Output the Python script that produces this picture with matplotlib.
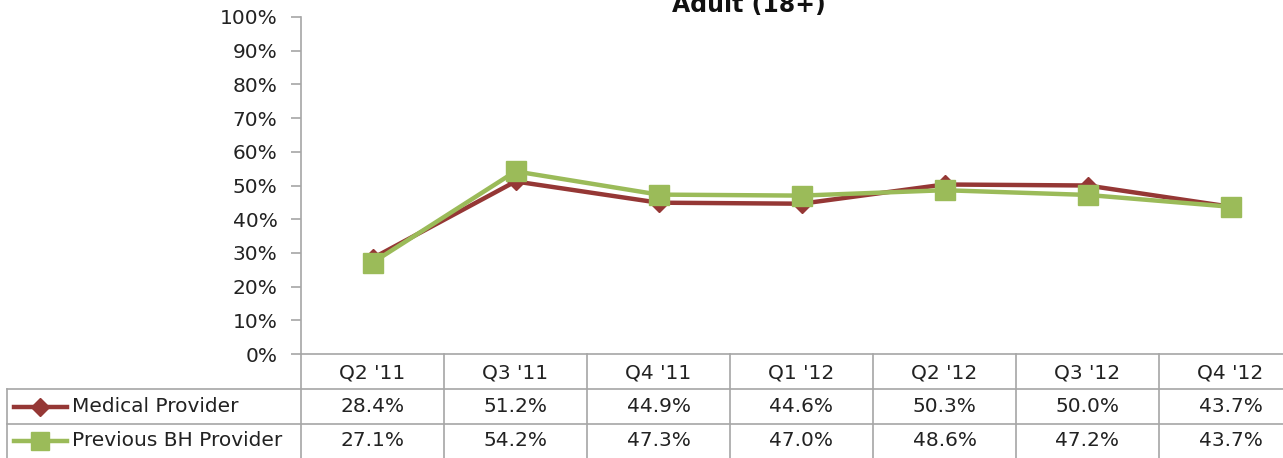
import matplotlib.pyplot as plt
from matplotlib.lines import Line2D

# Chart data
# ----------
quarters = ["Q2 '11", "Q3 '11", "Q4 '11", "Q1 '12", "Q2 '12", "Q3 '12", "Q4 '12"]
medical = [28.4, 51.2, 44.9, 44.6, 50.3, 50.0, 43.7]
previous_bh = [27.1, 54.2, 47.3, 47.0, 48.6, 47.2, 43.7]
series_names = ["Medical Provider", "Previous BH Provider"]

red = '#953735'
green = '#9BBB59'
grid = '#A6A6A6'
fs = 14.5

plt.rcParams['font.family'] = ['DejaVu Sans']

W, H = 1283, 458
fig = plt.figure(figsize=(W / 100, H / 100), dpi=100)

def fx(px):
    return px / W

def fy(py):
    return 1 - py / H

# plot area: left 301px, 0% at 354px, 100% at 17px, 143px per category
left, top, bottom, cat_w = 301, 17, 354, 143
ax = fig.add_axes([fx(left), fy(bottom), fx(cat_w * len(quarters)), (bottom - top) / H])
ax.set_xlim(-0.5, len(quarters) - 0.5)
ax.set_ylim(0, 100)

x = list(range(len(quarters)))
ax.plot(x, medical, color=red, lw=3.2, marker='D', ms=9, zorder=3)
ax.plot(x, previous_bh, color=green, lw=3.2, marker='s', ms=14, zorder=4)

ax.set_yticks(range(0, 101, 10))
ax.set_yticklabels(['{}%'.format(v) for v in range(0, 101, 10)], fontsize=fs, color='#222222')
ax.tick_params(axis='y', length=7, color=grid, width=1.2, pad=10)
ax.set_xticks([])
for s in ['top', 'right']:
    ax.spines[s].set_visible(False)
ax.spines['left'].set_color(grid)
ax.spines['bottom'].set_color(grid)
ax.spines['left'].set_linewidth(1.2)
ax.spines['bottom'].set_linewidth(1.2)

# title (cut off at top of image, as in the original)
fig.text(fx(749), fy(12), 'Adult (18+)', ha='center', va='baseline',
         fontsize=17, fontweight='bold', color='#111111')

# Data table below the axis
# -------------------------
ah = bottom - top
row_lines = [389, 424]
xa = ax.get_xaxis_transform()
for i in range(len(quarters) + 1):
    ax.plot([i - 0.5, i - 0.5], [0, -(H - bottom) / ah], color=grid, lw=1.2,
            transform=xa, clip_on=False)
for ry in row_lines:
    fig.add_artist(Line2D([fx(7), 1], [fy(ry), fy(ry)], color=grid, lw=1.2))
fig.add_artist(Line2D([fx(7), fx(7)], [fy(row_lines[0]), 0], color=grid, lw=1.2))

row_y = [373, 407, 441]
for i, q in enumerate(quarters):
    ax.text(i, -(row_y[0] - bottom) / ah, q, transform=xa, ha='center', va='center',
            fontsize=fs, color='#222222', clip_on=False)
    ax.text(i, -(row_y[1] - bottom) / ah, '{:.1f}%'.format(medical[i]), transform=xa,
            ha='center', va='center', fontsize=fs, color='#222222', clip_on=False)
    ax.text(i, -(row_y[2] - bottom) / ah, '{:.1f}%'.format(previous_bh[i]), transform=xa,
            ha='center', va='center', fontsize=fs, color='#222222', clip_on=False)

# legend keys inside the table
for name, col, mk, ms, ry in [(series_names[0], red, 'D', 9, row_y[1]),
                              (series_names[1], green, 's', 13, row_y[2])]:
    fig.add_artist(Line2D([fx(14), fx(67)], [fy(ry), fy(ry)], color=col, lw=3.2))
    fig.add_artist(Line2D([fx(40)], [fy(ry)], color=col, marker=mk, ms=ms, lw=0))
    fig.text(fx(72), fy(ry), name, ha='left', va='center', fontsize=fs, color='#222222')

fig.savefig('out.png', dpi=100)
